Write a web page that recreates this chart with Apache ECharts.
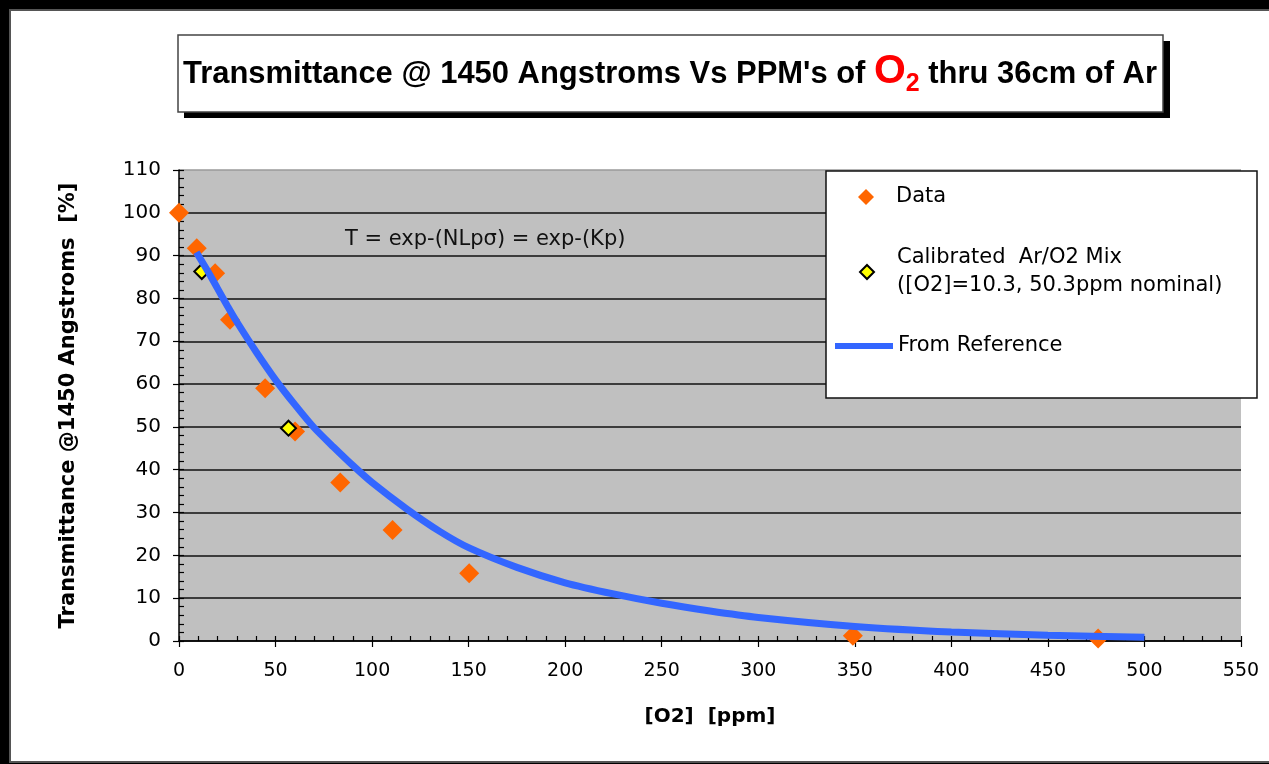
<!DOCTYPE html>
<html>
<head>
<meta charset="utf-8">
<script src="https://cdn.jsdelivr.net/npm/echarts@6/dist/echarts.min.js"></script>
<style>
html,body{margin:0;padding:0;background:#000;}
#c{width:1269px;height:764px;}
</style>
</head>
<body>
<div id="c"></div>
<script>
// ---- data ----
const dataX = [0, 9.2, 18.7, 26.4, 44.6, 60.1, 83.5, 110.6, 150.3, 349, 476];
const dataY = [100, 91.7, 85.9, 75.0, 59.0, 48.9, 37.0, 25.9, 15.8, 1.2, 0.6];
const calX = [11.8, 56.7];
const calY = [86.3, 49.7];
const refX = [9, 15, 20, 25, 30, 40, 50, 60, 70, 80, 90, 100, 118, 135, 150, 175, 200, 225, 250, 275, 300, 350, 400, 450, 500];
const refY = [90.8, 86.3, 82.3, 78.3, 74.5, 67.5, 61, 55.2, 49.8, 45.3, 41, 37, 30.8, 25.6, 21.8, 17.2, 13.6, 11.0, 8.8, 7.0, 5.5, 3.4, 2.1, 1.35, 0.85];

const seriesNames = ['Data', 'Calibrated  Ar/O2 Mix\n([O2]=10.3, 50.3ppm nominal)', 'From Reference'];
const titleA = "Transmittance @ 1450 Angstroms Vs PPM's of ";
const titleO = 'O';
const titleSub = '2';
const titleB = ' thru 36cm of Ar';
const equationText = 'T = exp-(NLp\u03C3) = exp-(Kp)';
const xName = '[O2]  [ppm]';
const yName = 'Transmittance @1450 Angstroms  [%]';

const FF = '"DejaVu Sans", sans-serif';
const ctx = document.createElement('canvas').getContext('2d');
function tw(t, f) { ctx.font = f; return ctx.measureText(t).width; }
const F1 = 'bold 31px "Liberation Sans", Arial, sans-serif';
const FO = 'bold 41px "Liberation Sans", Arial, sans-serif';
const F2 = 'bold 25px "Liberation Sans", Arial, sans-serif';
const w1 = tw(titleA, F1), wO = tw(titleO, FO), w2 = tw(titleSub, F2), w3 = tw(titleB, F1);
const sx = 974 / (w1 + wO + w2 + w3);
const mid = (base, fs) => base - 0.35 * fs;

const splitColors = [];
for (let i = 0; i < 12; i++) splitColors.push(i === 11 ? '#9a9a9a' : '#111');

const chart = echarts.init(document.getElementById('c'));
chart.setOption({
  animation: false,
  backgroundColor: '#000',
  grid: { left: 179, top: 170, right: 28, bottom: 123, show: true, backgroundColor: '#c0c0c0', borderWidth: 0, containLabel: false, outerBoundsMode: 'none' },
  xAxis: [
    {
      type: 'value', min: 0, max: 550, interval: 50, position: 'bottom',
      axisLine: { show: true, onZero: false, lineStyle: { color: '#000', width: 1.5 } },
      axisTick: { show: true, length: 6, lineStyle: { color: '#000', width: 1.2 } },
      axisLabel: { color: '#000', fontSize: 19, fontFamily: FF, margin: 21 },
      splitLine: { show: false },
      name: xName, nameLocation: 'middle', nameGap: 66,
      nameTextStyle: { color: '#000', fontSize: 20, fontWeight: 'bold', fontFamily: FF }
    },
    {
      type: 'value', min: 0, max: 550, interval: 50, position: 'bottom',
      axisLine: { show: false },
      axisTick: { show: true, inside: true, length: 5, lineStyle: { color: '#000', width: 1.2 } },
      minorTick: { show: true, splitNumber: 5, length: 5, lineStyle: { color: '#000', width: 1.2 } },
      axisLabel: { show: false }, splitLine: { show: false }
    }
  ],
  yAxis: [
    {
      type: 'value', min: 0, max: 110, interval: 10, position: 'left',
      axisLine: { show: true, onZero: false, lineStyle: { color: '#000', width: 1.5 } },
      axisTick: { show: true, length: 6, lineStyle: { color: '#000', width: 1.2 } },
      axisLabel: { color: '#000', fontSize: 20, fontFamily: FF, margin: 18 },
      splitLine: { show: true, showMinLine: true, showMaxLine: true, lineStyle: { color: splitColors, width: 1.6 } },
      name: yName, nameLocation: 'middle', nameGap: 100,
      nameTextStyle: { color: '#000', fontSize: 21, fontWeight: 'bold', fontFamily: FF }
    },
    {
      type: 'value', min: 0, max: 110, interval: 10, position: 'left',
      axisLine: { show: false },
      axisTick: { show: true, inside: true, length: 5, lineStyle: { color: '#000', width: 1.2 } },
      minorTick: { show: true, splitNumber: 5, length: 5, lineStyle: { color: '#000', width: 1.2 } },
      axisLabel: { show: false }, splitLine: { show: false }
    }
  ],
  legend: [
    {
      data: [{ name: seriesNames[0], icon: 'diamond', itemStyle: { color: '#ff6600', opacity: 1 } }],
      left: 858, top: 185, orient: 'vertical', padding: 0, itemWidth: 16, itemHeight: 16,
      selectedMode: false, z: 6,
      textStyle: { color: '#000', fontSize: 21, fontFamily: FF, lineHeight: 24, padding: [0, 0, 0, 17] }
    },
    {
      data: [{ name: seriesNames[1], icon: 'diamond', itemStyle: { color: '#ffff00', borderColor: '#000', borderWidth: 2, opacity: 1 } }],
      left: 859, top: 230, orient: 'vertical', padding: 0, itemWidth: 14, itemHeight: 14,
      selectedMode: false, z: 6,
      textStyle: { color: '#000', fontSize: 21, fontFamily: FF, lineHeight: 28, padding: [28, 0, 0, 18] }
    },
    {
      data: [{ name: seriesNames[2], icon: 'rect', itemStyle: { color: '#3366ff', opacity: 1 } }],
      left: 835, top: 334, orient: 'vertical', padding: 0, itemWidth: 58, itemHeight: 6,
      selectedMode: false, z: 6,
      textStyle: { color: '#000', fontSize: 21, fontFamily: FF, lineHeight: 24 }
    }
  ],
  series: [
    {
      name: seriesNames[0], type: 'scatter', xAxisIndex: 0, yAxisIndex: 0,
      data: dataX.map((x, i) => [x, dataY[i]]),
      symbol: 'diamond', symbolSize: 20, clip: false,
      itemStyle: { color: '#ff6600', opacity: 1 }, z: 2
    },
    {
      name: seriesNames[1], type: 'scatter', xAxisIndex: 0, yAxisIndex: 0,
      data: calX.map((x, i) => [x, calY[i]]),
      symbol: 'diamond', symbolSize: 15, clip: false,
      itemStyle: { color: '#ffff00', borderColor: '#000', borderWidth: 2, opacity: 1 }, z: 3
    },
    {
      name: seriesNames[2], type: 'line', xAxisIndex: 0, yAxisIndex: 0,
      data: refX.map((x, i) => [x, refY[i]]),
      symbol: 'none', showSymbol: false, smooth: 0.25,
      lineStyle: { color: '#3366ff', width: 7 }, itemStyle: { color: '#3366ff' }, z: 4
    }
  ],
  graphic: [
    { type: 'rect', z: -10, shape: { x: 10, y: 10, width: 1270, height: 752 }, style: { fill: '#fff', stroke: '#555', lineWidth: 2 } },
    { type: 'rect', z: 5, shape: { x: 826, y: 171, width: 431, height: 227 }, style: { fill: '#fff', stroke: '#111', lineWidth: 1.5 } },
    { type: 'text', z: 5, x: 345, y: 240, style: { text: equationText, font: '21px ' + FF, fill: '#111', textAlign: 'left', textVerticalAlign: 'middle', align: 'left', verticalAlign: 'middle' } },
    { type: 'rect', z: 9, shape: { x: 184, y: 41, width: 986, height: 77 }, style: { fill: '#000' } },
    { type: 'rect', z: 10, shape: { x: 178, y: 35, width: 985, height: 77 }, style: { fill: '#fff', stroke: '#444', lineWidth: 1.5 } },
    {
      type: 'group', x: 183, y: 0, scaleX: sx, z: 11,
      children: [
        { type: 'text', z: 11, x: 0, y: mid(85, 31), style: { text: titleA, font: F1, fill: '#000', textAlign: 'left', textVerticalAlign: 'middle', align: 'left', verticalAlign: 'middle' } },
        { type: 'text', z: 11, x: w1, y: mid(86, 41), style: { text: titleO, font: FO, fill: '#ff0000', textAlign: 'left', textVerticalAlign: 'middle', align: 'left', verticalAlign: 'middle' } },
        { type: 'text', z: 11, x: w1 + wO, y: mid(93, 25), style: { text: titleSub, font: F2, fill: '#ff0000', textAlign: 'left', textVerticalAlign: 'middle', align: 'left', verticalAlign: 'middle' } },
        { type: 'text', z: 11, x: w1 + wO + w2, y: mid(85, 31), style: { text: titleB, font: F1, fill: '#000', textAlign: 'left', textVerticalAlign: 'middle', align: 'left', verticalAlign: 'middle' } }
      ]
    }
  ]
});
</script>
</body>
</html>
